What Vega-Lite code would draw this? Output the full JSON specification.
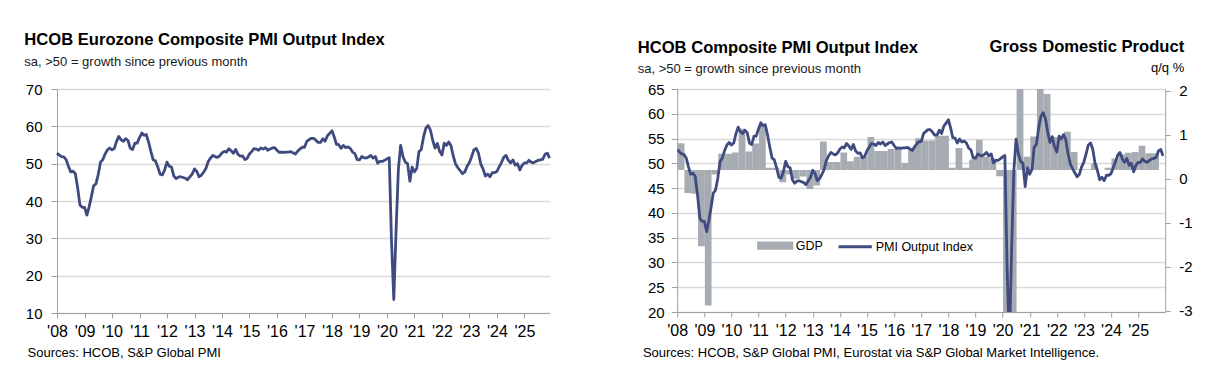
{
  "$schema": "https://vega.github.io/schema/vega-lite/v6.json",
  "background": "white",
  "padding": {"left": 24, "top": 32, "right": 5, "bottom": 5},
  "bounds": "flush",
  "spacing": 127.2,
  "resolve": {"legend": {"color": "independent"}, "scale": {"color": "independent"}},
  "config": {
    "font": "Liberation Sans",
    "view": {"stroke": null},
    "axis": {
      "domainColor": "#A0A0A0",
      "tickColor": "#A0A0A0",
      "gridColor": "#D9D9D9",
      "gridWidth": 1.3,
      "labelColor": "#000000",
      "labelFont": "Liberation Sans",
      "titleFont": "Liberation Sans",
      "titleColor": "#000000"
    },
    "title": {
      "font": "Liberation Sans",
      "fontWeight": "bold",
      "fontSize": 16.6,
      "color": "#000000",
      "subtitleFont": "Liberation Sans",
      "subtitleFontSize": 13,
      "subtitleColor": "#1a1a1a",
      "anchor": "start",
      "frame": "group"
    }
  },
  "datasets": {
    "pmi": [
      {"d":"2008-01-01","v":52.8},{"d":"2008-02-01","v":52.3},{"d":"2008-03-01","v":51.9},{"d":"2008-04-01","v":51.8},{"d":"2008-05-01","v":51.1},{"d":"2008-06-01","v":49.3},{"d":"2008-07-01","v":47.8},{"d":"2008-08-01","v":48.0},{"d":"2008-09-01","v":47.3},{"d":"2008-10-01","v":43.6},{"d":"2008-11-01","v":38.9},{"d":"2008-12-01","v":38.3},
      {"d":"2009-01-01","v":38.3},{"d":"2009-02-01","v":36.2},{"d":"2009-03-01","v":38.3},{"d":"2009-04-01","v":41.1},{"d":"2009-05-01","v":44.0},{"d":"2009-06-01","v":44.6},{"d":"2009-07-01","v":47.0},{"d":"2009-08-01","v":50.4},{"d":"2009-09-01","v":51.1},{"d":"2009-10-01","v":52.6},{"d":"2009-11-01","v":53.7},{"d":"2009-12-01","v":54.2},
      {"d":"2010-01-01","v":53.7},{"d":"2010-02-01","v":54.1},{"d":"2010-03-01","v":55.9},{"d":"2010-04-01","v":57.3},{"d":"2010-05-01","v":56.4},{"d":"2010-06-01","v":56.0},{"d":"2010-07-01","v":56.7},{"d":"2010-08-01","v":56.2},{"d":"2010-09-01","v":54.1},{"d":"2010-10-01","v":53.8},{"d":"2010-11-01","v":55.5},{"d":"2010-12-01","v":55.5},
      {"d":"2011-01-01","v":57.0},{"d":"2011-02-01","v":58.2},{"d":"2011-03-01","v":57.6},{"d":"2011-04-01","v":57.8},{"d":"2011-05-01","v":55.8},{"d":"2011-06-01","v":53.3},{"d":"2011-07-01","v":51.1},{"d":"2011-08-01","v":50.7},{"d":"2011-09-01","v":49.1},{"d":"2011-10-01","v":47.2},{"d":"2011-11-01","v":47.0},{"d":"2011-12-01","v":48.3},
      {"d":"2012-01-01","v":50.4},{"d":"2012-02-01","v":49.3},{"d":"2012-03-01","v":49.1},{"d":"2012-04-01","v":46.7},{"d":"2012-05-01","v":46.0},{"d":"2012-06-01","v":46.4},{"d":"2012-07-01","v":46.5},{"d":"2012-08-01","v":46.3},{"d":"2012-09-01","v":46.1},{"d":"2012-10-01","v":45.7},{"d":"2012-11-01","v":46.5},{"d":"2012-12-01","v":47.2},
      {"d":"2013-01-01","v":48.6},{"d":"2013-02-01","v":47.9},{"d":"2013-03-01","v":46.5},{"d":"2013-04-01","v":46.9},{"d":"2013-05-01","v":47.7},{"d":"2013-06-01","v":48.7},{"d":"2013-07-01","v":50.5},{"d":"2013-08-01","v":51.5},{"d":"2013-09-01","v":52.2},{"d":"2013-10-01","v":51.9},{"d":"2013-11-01","v":51.7},{"d":"2013-12-01","v":52.1},
      {"d":"2014-01-01","v":52.9},{"d":"2014-02-01","v":53.3},{"d":"2014-03-01","v":53.1},{"d":"2014-04-01","v":54.0},{"d":"2014-05-01","v":53.5},{"d":"2014-06-01","v":52.8},{"d":"2014-07-01","v":53.8},{"d":"2014-08-01","v":52.5},{"d":"2014-09-01","v":52.0},{"d":"2014-10-01","v":52.1},{"d":"2014-11-01","v":51.1},{"d":"2014-12-01","v":51.4},
      {"d":"2015-01-01","v":52.6},{"d":"2015-02-01","v":53.3},{"d":"2015-03-01","v":54.0},{"d":"2015-04-01","v":53.9},{"d":"2015-05-01","v":53.6},{"d":"2015-06-01","v":54.2},{"d":"2015-07-01","v":53.9},{"d":"2015-08-01","v":54.3},{"d":"2015-09-01","v":53.6},{"d":"2015-10-01","v":53.9},{"d":"2015-11-01","v":54.2},{"d":"2015-12-01","v":54.3},
      {"d":"2016-01-01","v":53.6},{"d":"2016-02-01","v":53.0},{"d":"2016-03-01","v":53.1},{"d":"2016-04-01","v":53.0},{"d":"2016-05-01","v":53.1},{"d":"2016-06-01","v":53.1},{"d":"2016-07-01","v":53.2},{"d":"2016-08-01","v":52.9},{"d":"2016-09-01","v":52.6},{"d":"2016-10-01","v":53.3},{"d":"2016-11-01","v":53.9},{"d":"2016-12-01","v":54.4},
      {"d":"2017-01-01","v":54.4},{"d":"2017-02-01","v":56.0},{"d":"2017-03-01","v":56.4},{"d":"2017-04-01","v":56.8},{"d":"2017-05-01","v":56.8},{"d":"2017-06-01","v":56.3},{"d":"2017-07-01","v":55.7},{"d":"2017-08-01","v":55.7},{"d":"2017-09-01","v":56.7},{"d":"2017-10-01","v":56.0},{"d":"2017-11-01","v":57.5},{"d":"2017-12-01","v":58.1},
      {"d":"2018-01-01","v":58.8},{"d":"2018-02-01","v":57.1},{"d":"2018-03-01","v":55.2},{"d":"2018-04-01","v":55.1},{"d":"2018-05-01","v":54.1},{"d":"2018-06-01","v":54.9},{"d":"2018-07-01","v":54.3},{"d":"2018-08-01","v":54.5},{"d":"2018-09-01","v":54.1},{"d":"2018-10-01","v":53.1},{"d":"2018-11-01","v":52.7},{"d":"2018-12-01","v":51.1},
      {"d":"2019-01-01","v":51.0},{"d":"2019-02-01","v":51.9},{"d":"2019-03-01","v":51.6},{"d":"2019-04-01","v":51.5},{"d":"2019-05-01","v":51.8},{"d":"2019-06-01","v":52.2},{"d":"2019-07-01","v":51.5},{"d":"2019-08-01","v":51.9},{"d":"2019-09-01","v":50.1},{"d":"2019-10-01","v":50.6},{"d":"2019-11-01","v":50.6},{"d":"2019-12-01","v":50.9},
      {"d":"2020-01-01","v":51.3},{"d":"2020-02-01","v":51.6},{"d":"2020-03-01","v":29.7},{"d":"2020-04-01","v":13.6},{"d":"2020-05-01","v":31.9},{"d":"2020-06-01","v":48.5},{"d":"2020-07-01","v":54.9},{"d":"2020-08-01","v":51.9},{"d":"2020-09-01","v":50.4},{"d":"2020-10-01","v":50.0},{"d":"2020-11-01","v":45.3},{"d":"2020-12-01","v":49.1},
      {"d":"2021-01-01","v":47.8},{"d":"2021-02-01","v":48.8},{"d":"2021-03-01","v":53.2},{"d":"2021-04-01","v":53.8},{"d":"2021-05-01","v":57.1},{"d":"2021-06-01","v":59.5},{"d":"2021-07-01","v":60.2},{"d":"2021-08-01","v":59.0},{"d":"2021-09-01","v":56.2},{"d":"2021-10-01","v":54.2},{"d":"2021-11-01","v":55.4},{"d":"2021-12-01","v":53.3},
      {"d":"2022-01-01","v":52.3},{"d":"2022-02-01","v":55.5},{"d":"2022-03-01","v":54.9},{"d":"2022-04-01","v":55.8},{"d":"2022-05-01","v":54.8},{"d":"2022-06-01","v":52.0},{"d":"2022-07-01","v":49.9},{"d":"2022-08-01","v":48.9},{"d":"2022-09-01","v":48.1},{"d":"2022-10-01","v":47.3},{"d":"2022-11-01","v":47.8},{"d":"2022-12-01","v":49.3},
      {"d":"2023-01-01","v":50.3},{"d":"2023-02-01","v":52.0},{"d":"2023-03-01","v":53.7},{"d":"2023-04-01","v":54.1},{"d":"2023-05-01","v":52.8},{"d":"2023-06-01","v":49.9},{"d":"2023-07-01","v":48.6},{"d":"2023-08-01","v":46.7},{"d":"2023-09-01","v":47.2},{"d":"2023-10-01","v":46.5},{"d":"2023-11-01","v":47.6},{"d":"2023-12-01","v":47.6},
      {"d":"2024-01-01","v":47.9},{"d":"2024-02-01","v":49.2},{"d":"2024-03-01","v":50.3},{"d":"2024-04-01","v":51.7},{"d":"2024-05-01","v":52.2},{"d":"2024-06-01","v":50.9},{"d":"2024-07-01","v":50.2},{"d":"2024-08-01","v":51.0},{"d":"2024-09-01","v":49.6},{"d":"2024-10-01","v":50.0},{"d":"2024-11-01","v":48.3},{"d":"2024-12-01","v":49.6},
      {"d":"2025-01-01","v":50.2},{"d":"2025-02-01","v":50.2},{"d":"2025-03-01","v":50.9},{"d":"2025-04-01","v":50.4},{"d":"2025-05-01","v":50.2},{"d":"2025-06-01","v":50.6},{"d":"2025-07-01","v":50.9},{"d":"2025-08-01","v":51.0},{"d":"2025-09-01","v":51.2},{"d":"2025-10-01","v":52.5},{"d":"2025-11-01","v":52.8},{"d":"2025-12-01","v":51.5}
    ],
    "gdp": [
      {"q":"2008-01-01","g":0.61},{"q":"2008-04-01","g":-0.52},{"q":"2008-07-01","g":-0.54},{"q":"2008-10-01","g":-1.73},
      {"q":"2009-01-01","g":-3.08},{"q":"2009-04-01","g":-0.1},{"q":"2009-07-01","g":0.37},{"q":"2009-10-01","g":0.37},
      {"q":"2010-01-01","g":0.4},{"q":"2010-04-01","g":0.94},{"q":"2010-07-01","g":0.42},{"q":"2010-10-01","g":0.6},
      {"q":"2011-01-01","g":1.05},{"q":"2011-04-01","g":0.05},{"q":"2011-07-01","g":0.05},{"q":"2011-10-01","g":-0.28},
      {"q":"2012-01-01","g":-0.1},{"q":"2012-04-01","g":-0.2},{"q":"2012-07-01","g":-0.15},{"q":"2012-10-01","g":-0.43},
      {"q":"2013-01-01","g":-0.35},{"q":"2013-04-01","g":0.65},{"q":"2013-07-01","g":0.18},{"q":"2013-10-01","g":0.18},
      {"q":"2014-01-01","g":0.4},{"q":"2014-04-01","g":0.2},{"q":"2014-07-01","g":0.3},{"q":"2014-10-01","g":0.3},
      {"q":"2015-01-01","g":0.75},{"q":"2015-04-01","g":0.43},{"q":"2015-07-01","g":0.43},{"q":"2015-10-01","g":0.48},
      {"q":"2016-01-01","g":0.48},{"q":"2016-04-01","g":0.16},{"q":"2016-07-01","g":0.48},{"q":"2016-10-01","g":0.72},
      {"q":"2017-01-01","g":0.67},{"q":"2017-04-01","g":0.67},{"q":"2017-07-01","g":0.78},{"q":"2017-10-01","g":0.78},
      {"q":"2018-01-01","g":0.05},{"q":"2018-04-01","g":0.5},{"q":"2018-07-01","g":0.05},{"q":"2018-10-01","g":0.24},
      {"q":"2019-01-01","g":0.69},{"q":"2019-04-01","g":0.3},{"q":"2019-07-01","g":0.26},{"q":"2019-10-01","g":-0.14},
      {"q":"2020-01-01","g":-3.6},{"q":"2020-04-01","g":-11.5},{"q":"2020-07-01","g":12.5},{"q":"2020-10-01","g":0.3},
      {"q":"2021-01-01","g":0.76},{"q":"2021-04-01","g":2.2},{"q":"2021-07-01","g":1.73},{"q":"2021-10-01","g":0.75},
      {"q":"2022-01-01","g":0.75},{"q":"2022-04-01","g":0.87},{"q":"2022-07-01","g":0.41},{"q":"2022-10-01","g":0.02},
      {"q":"2023-01-01","g":0.02},{"q":"2023-04-01","g":0.15},{"q":"2023-07-01","g":0.0},{"q":"2023-10-01","g":0.05},
      {"q":"2024-01-01","g":0.26},{"q":"2024-04-01","g":0.35},{"q":"2024-07-01","g":0.39},{"q":"2024-10-01","g":0.41},
      {"q":"2025-01-01","g":0.55},{"q":"2025-04-01","g":0.38},{"q":"2025-07-01","g":0.38}
    ]
  },
  "hconcat": [
    {
      "width": 492.6,
      "height": 224,
      "title": {
        "text": "HCOB Eurozone Composite PMI Output Index",
        "subtitle": "sa, >50 = growth since previous month",
        "dx": -32.7,
        "offset": 13,
        "subtitlePadding": 7
      },
      "data": {"name": "pmi"},
      "mark": {"type": "line", "color": "#3F4A7F", "strokeWidth": 2.8, "strokeJoin": "round"},
      "encoding": {
        "x": {
          "field": "d",
          "type": "temporal",
          "scale": {"type": "utc", "domain": [{"year": 2008, "month": 1, "date": 1, "utc": true}, {"year": 2025, "month": 12, "date": 1, "utc": true}]},
          "axis": {
            "labelExpr": "\"'\" + utcFormat(datum.value, '%y')",
            "tickCount": {"interval": "year", "step": 1},
            "labelFontSize": 16,
            "labelPadding": 5,
            "labelFlush": false,
            "labelOverlap": false,
            "tickSize": 5,
            "grid": false,
            "title": "Sources: HCOB, S&P Global PMI",
            "titleX": -30,
            "titleY": 43,
            "titleAlign": "left",
            "titleAnchor": "start",
            "titleBaseline": "alphabetic",
            "titleFontSize": 13,
            "titleFontWeight": "normal"
          }
        },
        "y": {
          "field": "v",
          "type": "quantitative",
          "scale": {"domain": [10, 70], "nice": false, "zero": false},
          "axis": {
            "values": [10, 20, 30, 40, 50, 60, 70],
            "labelFontSize": 15,
            "tickSize": 6,
            "labelPadding": 9,
            "grid": true,
            "title": null
          }
        }
      }
    },
    {
      "width": 488,
      "height": 223,
      "title": {
        "text": "HCOB Composite PMI Output Index",
        "subtitle": "sa, >50 = growth since previous month",
        "dx": -39.5,
        "offset": -38,
        "subtitlePadding": 7
      },
      "layer": [
        {
          "data": {"name": "gdp"},
          "mark": {"type": "bar", "clip": true, "binSpacing": 0},
          "encoding": {
            "x": {
              "field": "q",
              "type": "temporal",
              "timeUnit": "utcyearquarter",
              "scale": {"type": "utc", "domain": [{"year": 2008, "month": 1, "date": 1, "utc": true}, {"year": 2025, "month": 12, "date": 31, "utc": true}]},
              "axis": {
                "labelExpr": "\"'\" + utcFormat(datum.value, '%y')",
                "tickCount": {"interval": "year", "step": 1},
                "labelFontSize": 16,
                "labelPadding": 5,
                "labelFlush": false,
                "labelOverlap": false,
                "tickSize": 5,
                "grid": false,
                "title": "q/q %",
                "titleX": 506.5,
                "titleY": -241,
                "titleAlign": "right",
                "titleAnchor": "start",
                "titleBaseline": "alphabetic",
                "titleFontSize": 13,
                "titleFontWeight": "normal"
              }
            },
            "y": {
              "field": "g",
              "type": "quantitative",
              "scale": {"domain": [-3.227, 1.841], "nice": false, "zero": false},
              "axis": {
                "orient": "right",
                "values": [1.8, 0.8, -0.2, -1.2, -2.2, -3.2],
                "labelExpr": "'' + round(datum.value + 0.2)",
                "labelFontSize": 15,
                "tickSize": 5,
                "labelPadding": 8.5,
                "grid": false,
                "title": "Gross Domestic Product",
                "titleAngle": 0,
                "titleX": 18.5,
                "titleY": -37.6,
                "titleAlign": "right",
                "titleAnchor": "start",
                "titleBaseline": "alphabetic",
                "titleFontSize": 16.6,
                "titleFontWeight": "bold"
              }
            },
            "color": {
              "datum": "GDP",
              "type": "nominal",
              "scale": {"domain": ["GDP", "PMI Output Index"], "range": ["#A6ACB2", "#3F4A7F"]},
              "legend": {
                "orient": "none",
                "legendX": 79.5,
                "legendY": 137.7,
                "direction": "horizontal",
                "title": null,
                "padding": 0,
                "symbolSize": 1100,
                "symbolStrokeWidth": 3,
                "labelFontSize": 12.5,
                "labelFont": "Liberation Sans",
                "labelColor": "#000000",
                "labelOffset": 2,
                "columnPadding": 8,
                "encode": {
                  "symbols": {
                    "update": {
                      "shape": {"signal": "datum.value === 'GDP' ? 'M-1,-0.16H1V0.16H-1Z' : 'stroke'"},
                      "fill": {"signal": "datum.value === 'GDP' ? '#A6ACB2' : 'transparent'"},
                      "stroke": {"signal": "datum.value === 'GDP' ? 'transparent' : '#3F4A7F'"},
                      "strokeWidth": {"value": 3},
                      "opacity": {"value": 1}
                    }
                  }
                }
              }
            }
          }
        },
        {
          "data": {"name": "pmi"},
          "mark": {"type": "line", "clip": true, "strokeWidth": 2.8, "strokeJoin": "round"},
          "encoding": {
            "x": {
              "field": "d",
              "type": "temporal",
              "scale": {"type": "utc", "domain": [{"year": 2008, "month": 1, "date": 1, "utc": true}, {"year": 2025, "month": 12, "date": 31, "utc": true}]},
              "axis": {
                "labelExpr": "\"'\" + utcFormat(datum.value, '%y')",
                "tickCount": {"interval": "year", "step": 1},
                "labelFontSize": 16,
                "labelPadding": 5,
                "labelFlush": false,
                "labelOverlap": false,
                "tickSize": 5,
                "grid": false,
                "title": "q/q %",
                "titleX": 506.5,
                "titleY": -241,
                "titleAlign": "right",
                "titleAnchor": "start",
                "titleBaseline": "alphabetic",
                "titleFontSize": 13,
                "titleFontWeight": "normal"
              }
            },
            "y": {
              "field": "v",
              "type": "quantitative",
              "scale": {"domain": [20, 65], "nice": false, "zero": false},
              "axis": {
                "orient": "left",
                "values": [20, 25, 30, 35, 40, 45, 50, 55, 60, 65],
                "labelFontSize": 15,
                "tickSize": 6,
                "labelPadding": 7,
                "grid": true,
                "title": "Sources: HCOB, S&P Global PMI, Eurostat via S&P Global Market Intelligence.",
                "titleAngle": 0,
                "titleX": -34.8,
                "titleY": 267,
                "titleAlign": "left",
                "titleAnchor": "start",
                "titleBaseline": "alphabetic",
                "titleFontSize": 13,
                "titleFontWeight": "normal"
              }
            },
            "color": {"datum": "PMI Output Index", "type": "nominal"}
          }
        }
      ],
      "resolve": {"scale": {"y": "independent"}}
    }
  ]
}
